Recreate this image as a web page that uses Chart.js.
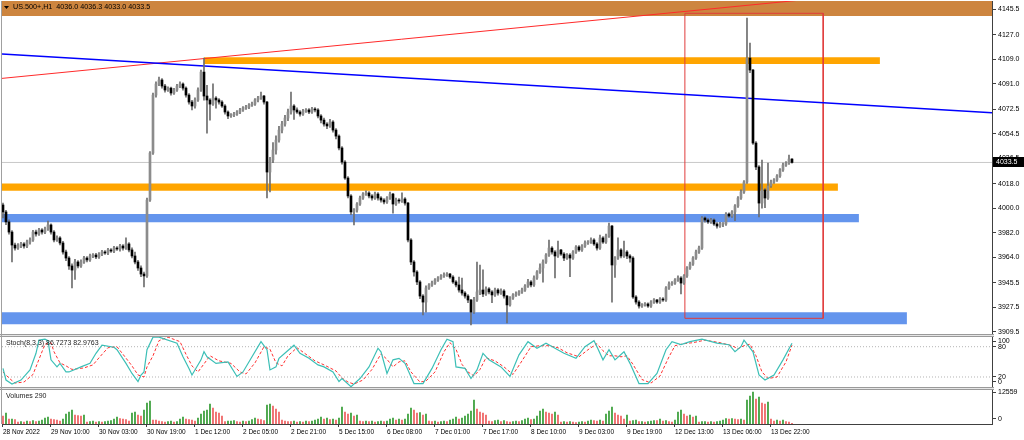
<!DOCTYPE html>
<html>
<head>
<meta charset="utf-8">
<title>US.500+,H1</title>
<script src="https://cdn.jsdelivr.net/npm/chart.js@4/dist/chart.umd.min.js"></script>
<style>
  html, body { margin: 0; padding: 0; background: #fff; }
  #wrap { width: 1024px; height: 440px; }
</style>
</head>
<body>
<div id="wrap"><canvas id="chart" width="1024" height="440"></canvas></div>
<script>
// US.500+ H1, 28 Nov 2022 .. 14 Dec 2022, one value per hourly bar.
// Open of each bar = close of the bar before it.
const SYMBOL = "US.500+,H1";
const FIRST_OPEN = 4002.4;

const closes = [
  3997.3, 3990.0, 3982.6, 3973.1, 3970.9, 3972.4, 3973.9, 3972.4,   // 0
  3975.3, 3976.8, 3982.6, 3981.2, 3984.1, 3982.6, 3984.8, 3987.8,
  3982.6, 3976.8, 3978.3, 3974.6, 3968.0, 3963.6, 3957.8, 3954.8,
  3960.7, 3957.8, 3960.7, 3963.6, 3962.2, 3965.1, 3965.8, 3964.4,
  3966.5, 3968.0, 3967.3, 3969.5, 3968.7, 3970.9, 3970.2, 3972.4,   // 32
  3970.9, 3973.9, 3969.5, 3965.1, 3960.7, 3956.3, 3951.9, 3950.5,
  4006.0, 4040.4, 4082.8, 4090.9, 4093.8, 4089.4, 4086.5, 4087.9,
  4084.3, 4086.5, 4089.4, 4090.9, 4087.9, 4082.8, 4077.7, 4074.8,
  4079.2, 4086.5, 4099.6, 4082.1, 4079.2, 4076.2, 4080.6, 4079.2,   // 64
  4077.7, 4074.8, 4070.4, 4067.5, 4068.2, 4068.9, 4070.4, 4071.9,
  4073.3, 4074.1, 4075.5, 4076.2, 4079.2, 4080.6, 4082.1, 4077.7,
  4026.5, 4035.3, 4042.6, 4049.9, 4057.2, 4061.6, 4066.0, 4070.4,
  4074.8, 4071.9, 4070.4, 4068.9, 4071.1, 4071.9, 4070.4, 4072.6,   // 96
  4071.9, 4067.5, 4064.5, 4061.6, 4060.2, 4063.1, 4057.2, 4052.8,
  4044.1, 4033.8, 4022.1, 4009.0, 3997.3, 3998.7, 4003.1, 4007.5,
  4010.4, 4011.2, 4009.0, 4007.5, 4010.4, 4007.5, 4006.0, 4004.6,
  4007.5, 4010.4, 4003.1, 4006.0, 4005.3, 4006.8, 4003.8, 3976.8,   // 128
  3960.7, 3953.4, 3946.1, 3935.8, 3931.4, 3941.7, 3943.9, 3945.3,
  3947.5, 3949.0, 3950.5, 3951.2, 3951.9, 3949.7, 3946.1, 3943.9,
  3940.2, 3938.0, 3935.8, 3932.9, 3924.1, 3932.9, 3938.8, 3940.2,
  3937.3, 3941.0, 3938.8, 3936.6, 3940.2, 3938.0, 3939.5, 3935.8,   // 160
  3929.3, 3934.4, 3936.6, 3937.3, 3938.8, 3940.2, 3943.1, 3946.1,
  3943.9, 3949.0, 3953.4, 3956.3, 3960.7, 3965.8, 3970.9, 3968.0,
  3965.1, 3969.5, 3966.5, 3963.6, 3965.8, 3963.6, 3968.0, 3971.7,
  3969.5, 3972.4, 3974.6, 3975.3, 3976.8, 3973.9, 3970.9, 3978.3,   // 192
  3975.3, 3979.7, 3987.0, 3958.5, 3963.6, 3969.5, 3965.1, 3968.0,
  3965.1, 3963.6, 3935.1, 3931.4, 3928.5, 3929.3, 3930.0, 3928.5,
  3931.4, 3932.9, 3931.4, 3933.6, 3932.9, 3941.7, 3944.6, 3945.3,
  3947.5, 3949.0, 3945.3, 3950.5, 3956.3, 3959.2, 3963.6, 3968.0,   // 224
  3970.9, 3992.9, 3991.4, 3990.0, 3991.4, 3988.5, 3987.0, 3988.5,
  3988.5, 3995.8, 3994.3, 3997.3, 4001.7, 4007.5, 4011.9, 4019.2,
  4109.9, 4101.1, 4047.7, 4030.2, 4003.8, 4013.4, 4007.5, 4016.3,
  4019.2, 4020.7, 4023.6, 4028.0, 4031.6, 4033.1, 4036.0, 4033.5    // 256
];

const highs = [
  4003.8, 3998.5, 3991.5, 3983.6, 3974.6, 3974.2, 3975.1, 3974.9,
  3976.7, 3978.3, 3983.8, 3984.1, 3985.3, 3985.1, 3986.3, 3990.7,
  3988.6, 3983.6, 3979.9, 3979.3, 3975.8, 3969.5, 3964.6, 3959.3,
  3962.7, 3961.7, 3962.2, 3964.8, 3964.6, 3966.4, 3966.8, 3967.0,
  3967.5, 3969.2, 3969.0, 3970.7, 3970.5, 3972.2, 3971.9, 3973.6,
  3973.4, 3978.3, 3974.9, 3971.0, 3968.0, 3961.9, 3957.9, 3953.4,
  4007.5, 4041.4, 4084.3, 4092.4, 4096.0, 4094.8, 4090.6, 4088.9,
  4088.7, 4087.7, 4090.6, 4092.4, 4091.7, 4088.9, 4083.8, 4078.9,
  4080.7, 4088.0, 4101.1, 4109.9, 4090.0, 4080.2, 4091.0, 4081.6,
  4080.2, 4078.7, 4075.8, 4071.2, 4069.2, 4070.1, 4071.4, 4073.1,
  4074.3, 4075.3, 4076.5, 4077.7, 4080.2, 4081.8, 4085.0, 4082.6,
  4078.2, 4037.3, 4048.0, 4053.0, 4060.0, 4063.5, 4068.0, 4072.5,
  4085.0, 4075.8, 4073.4, 4071.4, 4072.3, 4072.9, 4072.9, 4073.8,
  4073.6, 4072.9, 4068.5, 4066.0, 4062.6, 4065.1, 4064.1, 4058.2,
  4053.8, 4045.1, 4034.8, 4023.1, 4010.0, 3999.7, 4004.1, 4009.0,
  4011.4, 4012.7, 4012.2, 4010.0, 4011.9, 4011.4, 4008.5, 4007.0,
  4008.5, 4011.9, 4010.9, 4007.5, 4007.0, 4011.2, 4007.8, 4004.3,
  3977.8, 3961.7, 3954.4, 3947.1, 3936.8, 3943.2, 3944.9, 3946.8,
  3948.5, 3950.0, 3951.5, 3952.7, 3952.9, 3952.4, 3950.7, 3947.1,
  3949.7, 3949.0, 3939.0, 3936.8, 3933.4, 3934.9, 3960.7, 3958.5,
  3955.0, 3942.5, 3942.0, 3939.8, 3941.7, 3941.2, 3941.0, 3940.5,
  3936.3, 3935.4, 3937.6, 3938.8, 3939.8, 3941.7, 3944.1, 3948.1,
  3947.1, 3950.5, 3954.4, 3959.3, 3962.2, 3966.8, 3976.8, 3971.9,
  3969.0, 3976.0, 3970.0, 3967.5, 3966.8, 3966.8, 3969.0, 3972.7,
  3972.7, 3973.4, 3976.1, 3976.3, 3978.3, 3977.8, 3974.9, 3980.3,
  3979.3, 3981.2, 3989.2, 3987.5, 3964.6, 3978.3, 3970.5, 3976.0,
  3969.0, 3966.1, 3964.6, 3936.1, 3932.4, 3930.3, 3931.0, 3930.8,
  3932.4, 3933.9, 3933.4, 3934.6, 3934.6, 3942.7, 3946.1, 3946.3,
  3948.5, 3950.5, 3950.0, 3951.5, 3957.3, 3960.7, 3964.6, 3969.5,
  3972.4, 3993.9, 3993.7, 3992.4, 3992.6, 3992.2, 3989.5, 3989.7,
  3989.5, 3996.8, 3996.6, 3998.3, 4002.7, 4008.5, 4013.4, 4020.2,
  4139.1, 4120.9, 4101.6, 4048.7, 4031.2, 4035.3, 4014.4, 4033.1,
  4020.7, 4021.7, 4024.6, 4029.0, 4033.1, 4034.1, 4038.9, 4036.3
];

const lows = [
  3992.9, 3988.0, 3981.1, 3960.7, 3969.4, 3969.9, 3971.2, 3970.9,
  3971.2, 3973.8, 3975.8, 3979.6, 3980.2, 3981.1, 3981.4, 3983.8,
  3981.1, 3975.3, 3975.8, 3973.1, 3966.5, 3961.6, 3955.3, 3941.7,
  3948.0, 3956.3, 3956.8, 3959.7, 3960.8, 3961.2, 3963.9, 3963.1,
  3963.4, 3965.3, 3966.3, 3966.1, 3967.7, 3967.5, 3969.2, 3968.7,
  3969.4, 3969.9, 3968.0, 3963.6, 3959.2, 3954.5, 3949.9, 3942.4,
  3949.5, 4005.0, 4039.4, 4081.3, 4089.7, 4087.9, 4085.0, 4085.5,
  4082.8, 4083.3, 4085.5, 4088.2, 4086.4, 4081.3, 4076.2, 4071.9,
  4073.3, 4078.2, 4085.5, 4079.1, 4055.0, 4064.5, 4075.2, 4073.2,
  4076.2, 4073.8, 4068.9, 4065.5, 4066.5, 4067.0, 4067.9, 4069.2,
  4070.9, 4072.3, 4072.9, 4074.5, 4075.2, 4077.7, 4079.6, 4076.2,
  4007.5, 4012.0, 4033.3, 4039.6, 4048.4, 4055.2, 4060.1, 4064.0,
  4068.9, 4065.0, 4069.4, 4067.4, 4067.9, 4070.1, 4069.2, 4069.4,
  4070.4, 4066.0, 4062.5, 4060.1, 4058.2, 4059.2, 4055.7, 4050.8,
  4042.6, 4032.3, 4021.1, 4007.5, 3995.3, 3987.8, 3997.2, 4002.1,
  4006.5, 4009.4, 4007.5, 4006.0, 4006.5, 4006.0, 4004.5, 4003.1,
  4003.6, 4006.5, 3996.5, 4002.1, 4003.8, 4004.3, 4002.3, 3975.3,
  3958.7, 3950.4, 3944.1, 3933.8, 3921.9, 3924.0, 3940.7, 3942.9,
  3944.3, 3946.5, 3948.0, 3949.5, 3950.2, 3948.7, 3945.1, 3942.4,
  3938.7, 3936.5, 3934.3, 3930.9, 3914.6, 3923.1, 3931.9, 3936.8,
  3935.3, 3936.3, 3937.3, 3931.0, 3935.6, 3936.5, 3937.0, 3934.3,
  3916.1, 3928.3, 3933.4, 3935.6, 3936.3, 3937.8, 3939.2, 3942.1,
  3942.4, 3942.9, 3948.0, 3952.4, 3946.0, 3959.7, 3964.8, 3966.5,
  3949.0, 3964.1, 3965.5, 3961.6, 3962.6, 3950.0, 3962.6, 3967.0,
  3968.5, 3968.5, 3971.4, 3973.6, 3974.3, 3972.9, 3969.4, 3969.9,
  3974.3, 3974.3, 3978.7, 3931.4, 3949.5, 3962.6, 3963.6, 3964.1,
  3963.1, 3960.6, 3934.1, 3929.9, 3927.0, 3927.5, 3928.3, 3927.5,
  3927.5, 3930.4, 3930.4, 3930.4, 3931.9, 3931.9, 3940.7, 3943.6,
  3944.3, 3946.5, 3937.3, 3944.3, 3949.5, 3955.3, 3958.2, 3962.6,
  3967.0, 3969.9, 3989.9, 3989.0, 3989.0, 3987.5, 3985.5, 3986.0,
  3986.5, 3987.5, 3993.3, 3993.3, 3991.0, 4000.7, 4006.5, 4010.9,
  4018.2, 4099.1, 4046.7, 4028.2, 3993.6, 4000.0, 4000.5, 4006.5,
  4015.3, 4018.2, 4019.7, 4022.6, 4027.0, 4030.6, 4032.1, 4033.0
];

const volumes = [
  3140, 4310, 1960, 1980, 1760, 780, 980, 800,
  1180, 960, 1370, 990, 1160, 1570, 2350, 2740,
  1960, 1760, 1570, 1180, 1960, 3920, 4700, 5490,
  3530, 3330, 3140, 3550, 780, 980, 1180, 790,
  990, 800, 970, 1180, 1370, 1960, 2740, 2160,
  1960, 1760, 1180, 4310, 4700, 3530, 3140, 5490,
  8230, 9020, 1570, 1550, 1180, 980, 780, 990,
  1180, 790, 980, 1960, 2740, 1960, 1760, 1570,
  1180, 2350, 3920, 5100, 5490, 7840, 6270, 4700,
  4310, 3140, 980, 1180, 1190, 1370, 980, 780,
  1180, 980, 1180, 1760, 2350, 1960, 1760, 1370,
  7450, 7840, 7060, 5880, 4700, 1570, 1180, 980,
  980, 1180, 780, 980, 800, 1180, 980, 1170,
  1570, 1960, 2740, 1960, 2350, 1760, 1960, 1570,
  2350, 6660, 4700, 3920, 4310, 3140, 3530, 1180,
  980, 1180, 970, 1160, 780, 990, 1180, 980,
  1190, 1960, 2350, 1570, 1960, 1570, 1960, 3920,
  6270, 5490, 4310, 4510, 3530, 3920, 1180, 980,
  1180, 780, 980, 1180, 990, 1570, 1960, 2740,
  1960, 2350, 3140, 3920, 5100, 9410, 5880, 4700,
  4310, 3530, 1180, 980, 1370, 1570, 980, 1370,
  980, 780, 990, 1180, 980, 1370, 1960, 2350,
  1760, 1960, 3140, 5100, 5880, 4700, 4310, 3920,
  4700, 3530, 780, 980, 790, 990, 780, 590,
  780, 980, 800, 1180, 1570, 1370, 1180, 1570,
  1180, 3920, 5100, 6660, 4310, 3530, 3140, 1960,
  3530, 1180, 1370, 1570, 980, 990, 780, 980,
  1180, 1370, 1370, 1960, 1180, 1370, 980, 780,
  1570, 4700, 5490, 3920, 3140, 3530, 2740, 3140,
  780, 980, 990, 780, 980, 790, 980, 1180,
  1570, 2160, 1960, 2150, 1960, 1760, 1950, 1570,
  9410, 10980, 12559, 9800, 10580, 8230, 7840, 8620,
  1960, 1180, 1570, 1170, 1560, 980, 780, 290
];

// Stochastic(8,3,3): %K and %D read at the bars where the lines turn
const stochKBars = [
  0, 1, 3, 6, 9, 11, 12, 14, 15, 16, 18, 19, 21, 22, 26, 29, 31, 33, 37, 38,
  41, 43, 45, 46, 47, 48, 50, 52, 58, 60, 62, 63, 66, 67, 68, 71, 75, 78, 80, 83,
  86, 88, 89, 91, 92, 97, 99, 102, 105, 107, 110, 112, 113, 116, 119, 122, 125, 126, 128, 130,
  132, 134, 137, 140, 143, 146, 148, 150, 151, 154, 156, 158, 160, 162, 166, 169, 172, 175, 178, 181,
  184, 187, 191, 194, 197, 198, 200, 202, 204, 207, 209, 212, 215, 218, 221, 223, 226, 229, 233, 238,
  242, 244, 246, 247, 250, 252, 254, 257, 260, 263
];
const stochK = [
  37, 14, 6, 14, 34, 67, 93, 95, 92, 54, 40, 47, 30, 30, 40, 47, 67, 83, 79, 74,
  47, 27, 11, 24, 30, 74, 99, 99, 87, 60, 37, 24, 54, 70, 60, 47, 50, 21, 30, 60,
  90, 74, 34, 40, 57, 83, 67, 57, 44, 40, 30, 11, 17, 1, 17, 40, 77, 70, 27, 54,
  57, 47, 7, 7, 37, 74, 95, 90, 40, 37, 17, 34, 67, 54, 40, 21, 64, 90, 77, 87,
  77, 67, 57, 80, 92, 80, 54, 74, 54, 70, 47, 7, 7, 27, 74, 90, 84, 90, 95, 87,
  84, 70, 80, 93, 70, 24, 14, 24, 54, 86.7273
];
const stochDBars = [
  0, 2, 4, 7, 10, 12, 14, 16, 17, 19, 21, 23, 27, 30, 32, 35, 38, 40, 43, 45,
  47, 48, 50, 52, 55, 59, 61, 63, 65, 67, 69, 72, 76, 79, 81, 84, 87, 89, 91, 93,
  95, 98, 101, 104, 107, 111, 113, 115, 117, 120, 123, 126, 128, 130, 132, 134, 136, 139, 141, 144,
  147, 149, 151, 153, 155, 157, 159, 161, 164, 167, 170, 173, 176, 179, 182, 185, 188, 192, 195, 198,
  200, 202, 204, 206, 208, 210, 213, 216, 219, 222, 224, 227, 230, 234, 239, 243, 245, 247, 249, 251,
  253, 255, 258, 261, 263
];
const stochD = [
  30, 18, 8, 10, 25, 55, 85, 88, 70, 48, 42, 35, 38, 44, 58, 78, 80, 65, 42, 24,
  20, 40, 62, 92, 99, 90, 65, 42, 30, 46, 62, 52, 47, 30, 26, 48, 80, 75, 48, 42,
  62, 78, 65, 52, 44, 32, 18, 10, 6, 14, 35, 66, 55, 40, 50, 52, 30, 10, 12, 30,
  70, 88, 75, 45, 30, 22, 35, 58, 52, 40, 25, 52, 80, 82, 82, 78, 68, 60, 74, 86,
  72, 62, 62, 60, 62, 45, 15, 8, 22, 60, 82, 86, 88, 93, 88, 82, 76, 82, 85, 62,
  30, 17, 20, 50, 82.9763
];
const stochLevels = [80, 20];

// drawn objects, in bar index / price units
const zones = [
  { from: -1, to: 331, top: 4152.0, bottom: 4140.6 },   // header box
  { from: 67, to: 292.3, top: 4110.4, bottom: 4105.5 },
  { from: -1, to: 278.3, top: 4018.2, bottom: 4012.8 },
  { from: -1, to: 285.3, top: 3995.8, bottom: 3989.7 },
  { from: -1, to: 301.3, top: 3923.9, bottom: 3915.1 }
];
const blueTrend = [{ x: -0.33, y: 4112.8 }, { x: 329.67, y: 4069.9 }];
const redTrend = [{ x: -0.33, y: 4095.0 }, { x: 329.67, y: 4166.0 }];
const spikeBox = { from: 227.3, to: 273.4, top: 4142.6, bottom: 3919.5 };

// axes
const timeTickBars = [0, 16, 32, 48, 64, 80, 96, 112, 128, 144, 160, 176, 192, 208, 224, 240, 256];
const timeTickLabels = [
  "28 Nov 2022", "29 Nov 10:00", "30 Nov 03:00", "30 Nov 19:00", "1 Dec 12:00",
  "2 Dec 05:00", "2 Dec 21:00", "5 Dec 15:00", "6 Dec 08:00", "7 Dec 01:00",
  "7 Dec 17:00", "8 Dec 10:00", "9 Dec 03:00", "9 Dec 19:00", "12 Dec 13:00",
  "13 Dec 06:00", "13 Dec 22:00"
];
const priceTicks = [4145.5, 4127.0, 4109.0, 4091.0, 4072.5, 4054.5, 4036.5, 4018.0,
  4000.0, 3982.0, 3964.0, 3945.5, 3927.5, 3909.5];
const stochTickLabels = ["100", "80", "20", "0"];
const volTickLabels = ["12559", "0"];

// ---------------------------------------------------------------

const X_MIN = -0.33;
const X_MAX = 329.67;
const last = closes.length - 1;
const opens = closes.map((c, i) => (i === 0 ? FIRST_OPEN : closes[i - 1]));
const volMax = Math.max(...volumes);

// MT keeps the 100 and 0 labels inside their pane
const stochTickAt = [91.3, 80, 20, 10.1];
const volTickAt = [volMax, 2100];

const zoneColors = ["#cd853f", "#ffa500", "#ffa500", "#6495ed", "#6495ed"];

function flat(y) {
  return [{ x: X_MIN, y }, { x: X_MAX, y }];
}

const zoneSets = zones.map((z, k) => ({
  type: "line",
  yAxisID: "yPrice",
  data: [{ x: z.from, y: z.top }, { x: z.to, y: z.top }],
  fill: { value: z.bottom },
  backgroundColor: zoneColors[k],
  borderWidth: 0,
  pointRadius: 0,
  order: 60
}));

const datasets = [
  ...zoneSets,
  {
    type: "line", yAxisID: "yPrice", data: flat(closes[last]),
    borderColor: "#c8c8c8", borderWidth: 1, pointRadius: 0, order: 50
  },
  {
    type: "line", yAxisID: "yPrice", data: blueTrend,
    borderColor: "#0000ff", borderWidth: 1.6, pointRadius: 0, order: 40
  },
  {
    type: "line", yAxisID: "yPrice", data: redTrend,
    borderColor: "#ff2a2a", borderWidth: 1, pointRadius: 0, order: 40
  },
  {
    type: "line", yAxisID: "yPrice",
    data: [
      { x: spikeBox.from, y: spikeBox.top }, { x: spikeBox.to, y: spikeBox.top },
      { x: spikeBox.to, y: spikeBox.bottom }, { x: spikeBox.from, y: spikeBox.bottom },
      { x: spikeBox.from, y: spikeBox.top }
    ],
    borderColor: "#e03c3c", borderWidth: 1, pointRadius: 0, order: 40
  },
  {
    type: "bar", yAxisID: "yPrice", grouped: false,
    data: closes.map((c, i) => ({ x: i, y: [lows[i], highs[i]] })),
    backgroundColor: "#6e6e6e", barThickness: 1, order: 20
  },
  {
    type: "bar", yAxisID: "yPrice", grouped: false, minBarLength: 1,
    data: closes.map((c, i) => ({ x: i, y: [opens[i], c] })),
    backgroundColor: closes.map((c, i) => (c >= opens[i] ? "#8c8c8c" : "#000000")),
    barThickness: 2, order: 10
  },
  ...stochLevels.map(v => ({
    type: "line", yAxisID: "yStoch", data: flat(v),
    borderColor: "#b4b4b4", borderWidth: 1, borderDash: [1, 2], pointRadius: 0, order: 30
  })),
  {
    type: "line", yAxisID: "yStoch",
    data: stochDBars.map((b, j) => ({ x: b, y: stochD[j] })),
    borderColor: "#ff3030", borderWidth: 1, borderDash: [3, 2], pointRadius: 0, order: 11
  },
  {
    type: "line", yAxisID: "yStoch",
    data: stochKBars.map((b, j) => ({ x: b, y: stochK[j] })),
    borderColor: "#3cbfb6", borderWidth: 1.2, pointRadius: 0, order: 10
  },
  {
    type: "bar", yAxisID: "yVol", grouped: false,
    data: volumes.map((v, i) => ({ x: i, y: v })),
    // MT Volumes: green when the volume grew against the previous bar
    backgroundColor: volumes.map((v, i) => (i > 0 && v > volumes[i - 1] ? "#2f9a2f" : "#ee5a5a")),
    barThickness: 1, order: 10
  }
];

function rightAxis(extra) {
  return Object.assign({
    type: "linear",
    position: "right",
    stack: "panes",
    border: { display: true, color: "#404040" },
    grid: { drawOnChartArea: false, drawTicks: true, tickLength: 4, color: "#404040" },
    afterFit: s => { s.width = 32; s.paddingTop = 0; s.paddingBottom = 0; }
  }, extra);
}

function axisTicks(callback) {
  return { autoSkip: false, padding: 2, color: "#000", font: { size: 7 }, callback };
}

const mtFrame = {
  id: "mtFrame",
  afterDraw(chart) {
    const { ctx, chartArea: a, scales } = chart;
    const price = scales.yPrice, stoch = scales.yStoch, vol = scales.yVol;
    ctx.save();

    // pane separators
    [price.bottom, stoch.bottom].forEach(y => {
      ctx.fillStyle = "#9a9a9a";
      ctx.fillRect(0, Math.round(y) - 1, a.right + 2, 3);
      ctx.fillStyle = "#e6e6e6";
      ctx.fillRect(0, Math.round(y), a.right + 2, 1);
    });
    ctx.fillStyle = "#a0a0a0";
    ctx.fillRect(a.left - 1, a.top, 1, a.bottom - a.top);

    // last price tag
    const py = Math.round(price.getPixelForValue(closes[last]));
    ctx.fillStyle = "#000";
    ctx.fillRect(a.right + 1, py - 5, 31, 10);
    ctx.fillStyle = "#fff";
    ctx.font = '7px "Liberation Sans", Arial, sans-serif';
    ctx.textBaseline = "middle";
    ctx.fillText(closes[last].toFixed(1), a.right + 4, py + 0.5);

    // header
    ctx.fillStyle = "#000";
    ctx.beginPath();
    ctx.moveTo(4, 6); ctx.lineTo(9, 6); ctx.lineTo(6.5, 9); ctx.closePath();
    ctx.fill();
    ctx.font = '7.2px "Liberation Sans", Arial, sans-serif';
    const ohlc = [opens[last], highs[last], lows[last], closes[last]].map(v => v.toFixed(1)).join(" ");
    ctx.fillText(SYMBOL + "  " + ohlc, 13, 7.5);

    // pane titles
    ctx.fillStyle = "#222";
    ctx.font = '7px "Liberation Sans", Arial, sans-serif';
    ctx.fillText("Stoch(8,3,3) " + stochK[stochK.length - 1].toFixed(4) + " " +
      stochD[stochD.length - 1].toFixed(4), 6, stoch.top + 8);
    ctx.fillText("Volumes " + volumes[last], 6, vol.top + 8);
    ctx.restore();
  }
};

Chart.defaults.font.family = '"Liberation Sans", Arial, sans-serif';
Chart.defaults.font.size = 7;
Chart.defaults.color = "#000";

new Chart(document.getElementById("chart"), {
  type: "bar",
  data: { datasets },
  options: {
    responsive: false,
    animation: false,
    devicePixelRatio: 1,
    events: [],
    layout: { padding: { left: 2, top: 1, right: 0, bottom: 0 } },
    plugins: { legend: { display: false }, tooltip: { enabled: false } },
    scales: {
      x: {
        type: "linear",
        position: "bottom",
        offset: false,
        min: X_MIN,
        max: X_MAX,
        afterBuildTicks: s => { s.ticks = timeTickBars.map(v => ({ value: v })); },
        ticks: {
          autoSkip: false, maxRotation: 0, align: "start", padding: 1,
          font: { size: 6.5 }, color: "#000",
          callback: v => timeTickLabels[timeTickBars.indexOf(v)]
        },
        border: { display: true, color: "#404040" },
        grid: { offset: false, drawOnChartArea: false, tickLength: 3, color: "#404040" },
        afterFit: s => { s.height = 16; s.paddingLeft = 0; s.paddingRight = 0; }
      },
      yPrice: rightAxis({
        stackWeight: 334, min: 3907.3, max: 4151.6,
        afterBuildTicks: s => { s.ticks = priceTicks.map(v => ({ value: v })); },
        ticks: axisTicks(v => v.toFixed(1))
      }),
      yStoch: rightAxis({
        stackWeight: 53, min: -1.8, max: 103.2,
        afterBuildTicks: s => { s.ticks = stochTickAt.map(v => ({ value: v })); },
        ticks: axisTicks((v, i) => stochTickLabels[i])
      }),
      yVol: rightAxis({
        stackWeight: 36, min: 0, max: 14130,
        afterBuildTicks: s => { s.ticks = volTickAt.map(v => ({ value: v })); },
        ticks: axisTicks((v, i) => volTickLabels[i])
      })
    }
  },
  plugins: [mtFrame]
});
</script>
</body>
</html>
